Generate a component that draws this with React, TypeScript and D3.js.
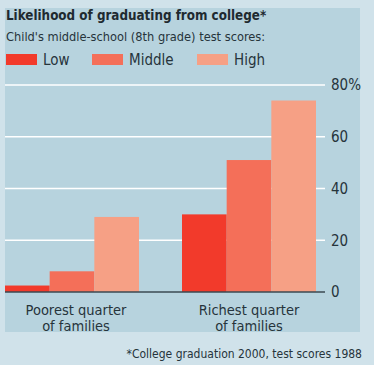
import React from "react";
import * as d3 from "d3";

const categories = ["Poorest quarter|of families", "Richest quarter|of families"];
const seriesNames = ["Low", "Middle", "High"];
const lowValues = [2.5, 30];
const middleValues = [8, 51];
const highValues = [29, 74];
const yTicks = [0, 20, 40, 60, 80];
const colors = ["#f23a2b", "#f46f59", "#f6a085"];

const W = 374;
const H = 365;
const FONT = "'Liberation Sans Narrow', 'DejaVu Sans Condensed', sans-serif";

export default function App() {
  const x0 = d3.scaleBand<string>().domain(categories).range([5, 316]).paddingInner(0.243).paddingOuter(0);
  const x1 = d3.scaleBand<string>().domain(seriesNames).range([0, x0.bandwidth()]).padding(0);
  const y = d3.scaleLinear().domain([0, 80]).range([292, 85]);
  const values = [lowValues, middleValues, highValues];
  const legendX = [6, 92, 197];

  return (
    <svg width={W} height={H} style={{ position: "absolute", left: 0, top: 0 }} fontFamily={FONT}>
      <rect x={0} y={0} width={W} height={H} fill="#d0e2ea" />
      <rect x={5} y={8} width={355} height={324} fill="#b7d3de" />
      <text x={6} y={20} fontSize={13.3} fontWeight="bold" fill="#1e2a30">Likelihood of graduating from college*</text>
      <text x={6} y={41} fontSize={12.7} fill="#26343b">Child's middle-school (8th grade) test scores:</text>
      {seriesNames.map((s, i) => (
        <g key={s}>
          <rect x={legendX[i]} y={54} width={31} height={11} fill={colors[i]} />
          <text x={legendX[i] + 37} y={65} fontSize={15} fill="#26343b">{s}</text>
        </g>
      ))}
      {yTicks.filter((t) => t > 0).map((t) => (
        <line key={t} x1={5} x2={325} y1={y(t)} y2={y(t)} stroke="#ffffff" strokeWidth={1.5} />
      ))}
      {categories.map((c, ci) => (
        <g key={c} transform={`translate(${x0(c)},0)`}>
          {seriesNames.map((s, si) => (
            <rect key={s} x={x1(s)} y={y(values[si][ci])} width={x1.bandwidth()} height={y(0) - y(values[si][ci])} fill={colors[si]} />
          ))}
        </g>
      ))}
      <line x1={5} x2={325} y1={y(0)} y2={y(0)} stroke="#3b4a52" strokeWidth={1.5} />
      {yTicks.map((t) => (
        <text key={t} x={331} y={y(t)} dy="0.35em" fontSize={15} fill="#26343b">{t === 80 ? "80%" : String(t)}</text>
      ))}
      {categories.map((c, ci) => {
        const lines = c.split("|");
        const cx = (x0(c) as number) + x0.bandwidth() / 2 + (ci === 0 ? 4 : 0);
        return (
          <text key={c} textAnchor="middle" fontSize={14.5} fill="#26343b">
            {lines.map((l, i) => (
              <tspan key={i} x={cx} y={315 + i * 16}>{l}</tspan>
            ))}
          </text>
        );
      })}
      <text x={362} y={358} textAnchor="end" fontSize={12} fill="#26343b">*College graduation 2000, test scores 1988</text>
    </svg>
  );
}
